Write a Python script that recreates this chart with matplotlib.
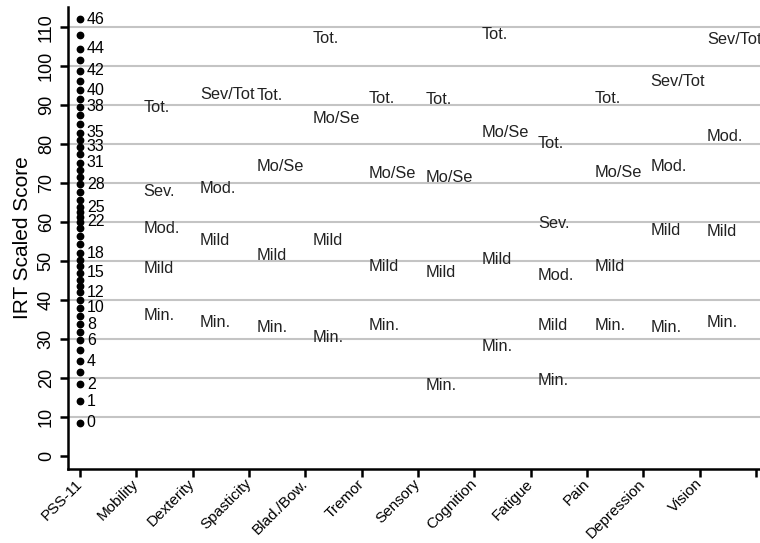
import matplotlib
matplotlib.use("Agg")
import matplotlib.pyplot as plt

plt.rcParams['font.family'] = ['Liberation Sans', 'DejaVu Sans']

domains = ["PSS-11", "Mobility", "Dexterity", "Spasticity", "Blad./Bow.", "Tremor",
           "Sensory", "Cognition", "Fatigue", "Pain", "Depression", "Vision"]

# PSS-11 raw scores 0..46 and their IRT scaled scores
pss_scaled = [8.5, 14.1, 18.5, 21.5, 24.4, 27.2, 29.7, 31.8, 33.8, 35.9,
              38.0, 40.0, 42.0, 43.6, 45.3, 47.0, 48.7, 50.4, 52.1, 54.3,
              56.5, 58.5, 60.1, 61.3, 62.6, 63.9, 65.8, 67.7, 69.7, 71.6,
              73.3, 75.3, 77.4, 79.3, 81.0, 82.9, 85.1, 87.4, 89.6, 91.5,
              93.8, 96.2, 98.8, 101.5, 104.5, 108.1, 112.0]
pss_labelled = [0, 1, 2, 4, 6, 8, 10, 12, 15, 18, 22, 25, 28, 31, 33, 35, 38, 40, 42, 44, 46]

# severity category labels per domain (scaled score where each sits)
mobility = [("Tot.", 89.5), ("Sev.", 68.0), ("Mod.", 58.5), ("Mild", 48.0), ("Min.", 36.0)]
dexterity = [("Sev/Tot", 92.8), ("Mod.", 68.7), ("Mild", 55.4), ("Min.", 34.4)]
spasticity = [("Tot.", 92.6), ("Mo/Se", 74.2), ("Mild", 51.5), ("Min.", 33.0)]
bladder = [("Tot.", 107.0), ("Mo/Se", 86.6), ("Mild", 55.4), ("Min.", 30.5)]
tremor = [("Tot.", 91.7), ("Mo/Se", 72.6), ("Mild", 48.7), ("Min.", 33.6)]
sensory = [("Tot.", 91.5), ("Mo/Se", 71.5), ("Mild", 47.2), ("Min.", 18.0)]
cognition = [("Tot.", 108.1), ("Mo/Se", 83.1), ("Mild", 50.5), ("Min.", 28.2)]
fatigue = [("Tot.", 80.2), ("Sev.", 59.7), ("Mod.", 46.4), ("Mild", 33.6), ("Min.", 19.5)]
pain = [("Tot.", 91.8), ("Mo/Se", 72.8), ("Mild", 48.7), ("Min.", 33.6)]
depression = [("Sev/Tot", 96.2), ("Mod.", 74.2), ("Mild", 58.0), ("Min.", 33.0)]
vision = [("Sev/Tot", 106.8), ("Mod.", 82.0), ("Mild", 57.7), ("Min.", 34.4)]

domain_labels = [mobility, dexterity, spasticity, bladder, tremor, sensory,
                 cognition, fatigue, pain, depression, vision]

fig = plt.figure(figsize=(7.6, 5.43), dpi=100)
ax = fig.add_axes([68 / 760, 74 / 543, 692 / 760, 462 / 543])

for yv in range(10, 111, 10):
    ax.axhline(yv, color="#c4c4c4", lw=1.5, zorder=0)

ax.plot([0] * len(pss_scaled), pss_scaled, "o", color="black", ms=4.6, zorder=3)
for raw in pss_labelled:
    ax.text(0.12, pss_scaled[raw], str(raw), fontsize=11.5, va="center", ha="left")

for i, labs in enumerate(domain_labels):
    for txt, yv in labs:
        ax.text(i + 1 + 0.13, yv, txt, fontsize=11.8, va="center", ha="left", color="#222222")

ax.set_xlim(-0.213, 12.07)
ax.set_ylim(-3.3, 115.2)
ax.set_xticks(range(13))
ax.set_xticklabels(domains + [""], rotation=45, ha="right", va="center",
                   rotation_mode="anchor", fontsize=11)
ax.set_yticks(range(0, 111, 10))
ax.set_yticklabels([str(v) for v in range(0, 111, 10)], rotation=90, va="center", fontsize=13)
ax.set_ylabel("IRT Scaled Score", fontsize=15, labelpad=4)

for s in ["top", "right"]:
    ax.spines[s].set_visible(False)
for s in ["left", "bottom"]:
    ax.spines[s].set_linewidth(1.8)
ax.tick_params(axis="both", length=6, width=1.8, color="black")
ax.tick_params(axis="x", pad=3)

fig.savefig("out.png", dpi=100)
